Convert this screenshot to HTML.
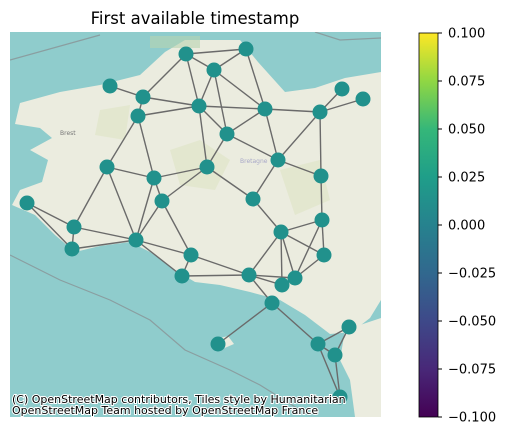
<!DOCTYPE html>
<html><head><meta charset="utf-8"><style>
body{margin:0;background:#fff;width:509px;height:435px;overflow:hidden}
svg{display:block;font-family:"DejaVu Sans","Liberation Sans",sans-serif}
</style></head><body>
<svg width="509" height="435" viewBox="0 0 509 435">
<defs>
<linearGradient id="vir" x1="0" y1="1" x2="0" y2="0">
<stop offset="0" stop-color="#440154"/><stop offset="0.125" stop-color="#482878"/>
<stop offset="0.25" stop-color="#3e4989"/><stop offset="0.375" stop-color="#31688e"/>
<stop offset="0.5" stop-color="#26828e"/><stop offset="0.625" stop-color="#1f9e89"/>
<stop offset="0.75" stop-color="#35b779"/><stop offset="0.875" stop-color="#90d743"/>
<stop offset="1" stop-color="#fde725"/></linearGradient>
<clipPath id="mapclip"><rect x="10" y="32" width="371" height="385"/></clipPath>
</defs>
<text x="195" y="24" text-anchor="middle" font-size="16.5" fill="#000">First available timestamp</text>
<g clip-path="url(#mapclip)">
<rect x="10" y="32" width="371" height="385" fill="#8fcccc"/>
<path fill="#ebecdf" d="M20,103 L60,92 L100,85 L140,75 L165,52 L185,40 L240,40 L258,62 L285,92 L315,88 L345,78 L381,72 L381,300 L370,318 L352,332 L330,334 L305,315 L280,300 L250,292 L220,285 L195,282 L175,270 L150,252 L130,242 L100,246 L75,252 L55,235 L35,215 L12,205 L20,190 L42,182 L48,160 L30,150 L52,138 L40,128 L15,124 Z"/>
<path fill="#ebecdf" d="M345,330 L381,318 L381,417 L355,417 L350,380 L340,360 Z"/>
<path fill="#ebecdf" d="M212,340 L228,336 L234,344 L220,350 Z"/>
<path fill="#dfe6c8" opacity="0.7" d="M170,150 L200,140 L230,160 L215,190 L180,185 Z M280,170 L320,160 L330,200 L295,215 Z M100,110 L130,105 L125,140 L95,135 Z"/>
<rect x="150" y="36" width="50" height="12" fill="#b7d3b0" opacity="0.6"/>
<path d="M10,60 L100,35" stroke="#8a9ea0" stroke-width="1.2" fill="none"/>
<path d="M10,255 L60,280 L110,300 L150,320 L185,350 L230,370 L260,385 L300,410" stroke="#8a9ea0" stroke-width="1.2" fill="none"/>
<path d="M315,32 L340,40 L381,38" stroke="#8a9ea0" stroke-width="1.2" fill="none"/>
<text x="60" y="135" font-size="6" fill="#777">Brest</text>
<text x="240" y="163" font-size="6" fill="#a8a8c8">Bretagne</text>
</g>
<g id="edges"></g>
<g id="nodes"></g>
<g font-size="11" fill="#000" stroke="#fff" stroke-width="2" paint-order="stroke">
<text x="12" y="403">(C) OpenStreetMap contributors, Tiles style by Humanitarian</text>
<text x="12" y="414">OpenStreetMap Team hosted by OpenStreetMap France</text>
</g>
<rect x="419" y="33" width="19" height="384" fill="url(#vir)" stroke="#000" stroke-width="0.8"/>
<g id="cbticks" font-size="13" fill="#000"></g>
</svg>
<script>
const nodeIds=["A","B","C","D","E","F","G","H","I","J","K","L","M","N","O","P","Q","R","S","T","U","V","W","X","Y","Z","a","b","c","d","e","f","g","h","i","j","k"];
const nodeX=[186,246,214,110,143,199,265,342,363,320,138,227,278,107,207,154,321,162,253,27,74,322,281,136,72,324,191,249,182,295,282,272,349,318,218,335,340];
const nodeY=[54,49,70,86,97,106,109,89,99,112,116,134,160,167,167,178,176,201,199,203,227,220,232,240,249,255,255,275,276,278,285,303,327,344,344,355,397];
const edgeList=["A-B","A-C","A-E","A-F","C-B","C-F","C-G","C-L","B-G","D-E","E-F","E-K","K-F","F-G","F-L","F-O","G-J","G-L","G-M","L-M","L-O","H-J","I-J","J-M","J-Q","K-N","K-P","N-P","N-X","N-U","O-P","O-R","O-S","M-Q","M-S","Q-V","P-X","P-R","R-X","R-a","T-U","T-Y","U-Y","U-X","Y-X","X-a","X-c","a-b","c-b","a-c","S-W","W-V","W-Z","W-b","W-e","W-d","V-d","V-Z","Z-d","b-d","b-e","b-f","e-d","f-i","f-h","h-g","h-j","g-j","j-k","h-k"];
const tickLabels=["0.100","0.075","0.050","0.025","0.000","\u22120.025","\u22120.050","\u22120.075","\u22120.100"];
const tickValues=[0.1,0.075,0.05,0.025,0,-0.025,-0.05,-0.075,-0.1];
const NS="http://www.w3.org/2000/svg";
const idx={};nodeIds.forEach((n,i)=>idx[n]=i);
const eg=document.getElementById('edges');
edgeList.forEach(e=>{const [a,b]=e.split('-').map(k=>idx[k]);
 const l=document.createElementNS(NS,'line');
 l.setAttribute('x1',nodeX[a]);l.setAttribute('y1',nodeY[a]);l.setAttribute('x2',nodeX[b]);l.setAttribute('y2',nodeY[b]);
 l.setAttribute('stroke','#6a6a6a');l.setAttribute('stroke-width','1.4');
 
 
 eg.appendChild(l);});
const ng=document.getElementById('nodes');
nodeIds.forEach((n,i)=>{const c=document.createElementNS(NS,'circle');
 c.setAttribute('cx',nodeX[i]);c.setAttribute('cy',nodeY[i]);c.setAttribute('r','7.5');c.setAttribute('fill','#21918c');
 
 
 ng.appendChild(c);});
const tg=document.getElementById('cbticks');
const yOf=v=>33+(0.1-v)/0.2*384;
tickValues.forEach((v,i)=>{const y=yOf(v);
 const t=document.createElementNS(NS,'line');
 t.setAttribute('x1',438);t.setAttribute('x2',442);t.setAttribute('y1',y);t.setAttribute('y2',y);t.setAttribute('stroke','#000');
 
 
 tg.appendChild(t);
 const tx=document.createElementNS(NS,'text');
 tx.setAttribute('x',448);tx.setAttribute('y',y+4.5);tx.textContent=tickLabels[i];
 
 
 tg.appendChild(tx);});
</script>
</body></html>
